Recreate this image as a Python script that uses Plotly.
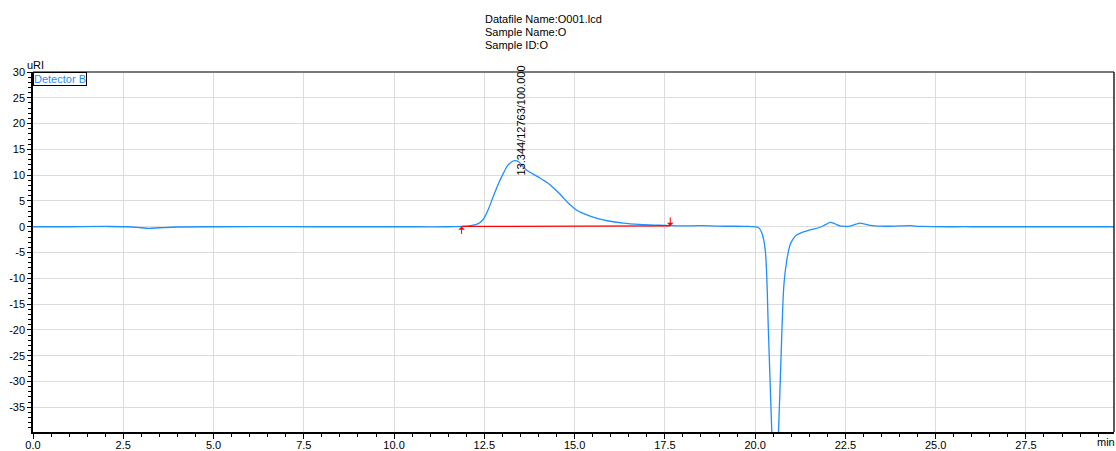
import plotly.graph_objects as go

# ---- data ----
time_min = [0.0, 1.0, 2.0, 2.6, 3.0, 3.2, 3.5, 4.0, 5.0, 8.0, 10.0, 11.5, 12.0, 12.3,
            12.47, 12.6, 12.75, 12.9, 13.03, 13.15, 13.3, 13.344, 13.45, 13.55, 13.67,
            13.85, 14.04, 14.2, 14.32, 14.45, 14.6, 14.7, 14.85, 14.97, 15.1, 15.3,
            15.43, 15.65, 15.9, 16.35, 16.8, 17.28, 17.7, 18.0, 18.5, 19.0, 19.8, 20.1,
            20.2, 20.28, 20.37, 20.46, 20.55, 20.65, 20.74, 20.8, 20.88, 20.97, 21.05,
            21.15, 21.3, 21.52, 21.8, 21.95, 22.08, 22.2, 22.35, 22.5, 22.63, 22.8, 22.9,
            23.05, 23.19, 23.5, 24.0, 24.3, 24.6, 26.0, 28.0, 30.0]
signal_uri = [0.0, 0.0, 0.05, 0.0, -0.2, -0.3, -0.2, -0.05, 0.0, 0.0, 0.0, 0.0, 0.1, 0.5,
              1.4, 3.2, 5.9, 8.5, 10.4, 11.9, 12.75, 12.8, 12.6, 11.8, 11.0,
              10.2, 9.45, 8.75, 8.15, 7.3, 6.3, 5.5, 4.4, 3.7, 3.05, 2.4,
              2.05, 1.55, 1.16, 0.7, 0.45, 0.3, 0.2, 0.15, 0.2, 0.1, 0.05, -0.2,
              -1.5, -4.5, -20.6, -39.4, -55.0, -39.4, -20.6, -11.0, -6.4, -3.5, -2.4,
              -1.6, -1.1, -0.6, -0.1, 0.4, 0.85, 0.6, 0.15, 0.05, 0.1, 0.5, 0.7,
              0.5, 0.25, 0.1, 0.15, 0.2, 0.05, 0.0, 0.0, 0.0]

baseline_t = [11.87, 17.65]
baseline_v = [0.05, 0.15]

peak_rt = 13.344
peak_label = "13.344/12763/100.000"

title_lines = ["Datafile Name:O001.lcd", "Sample Name:O", "Sample ID:O"]

x_ticks = [0.0, 2.5, 5.0, 7.5, 10.0, 12.5, 15.0, 17.5, 20.0, 22.5, 25.0, 27.5]
y_ticks = [30, 25, 20, 15, 10, 5, 0, -5, -10, -15, -20, -25, -30, -35]

FONT = "Liberation Sans, Arial, sans-serif"
BLUE = "#1e8fff"

L, R, T, B = 33, 2, 72, 19
W, H = 1116, 451
pw, ph = W - L - R, H - T - B


def px_to_paper(px, py):
    return (px - L) / pw, (H - B - py) / ph


fig = go.Figure()
fig.add_trace(go.Scatter(x=time_min, y=signal_uri, mode="lines",
                         line=dict(color=BLUE, width=1.3, shape="spline", smoothing=1.0),
                         showlegend=False, hoverinfo="skip"))
fig.add_trace(go.Scatter(x=baseline_t, y=baseline_v, mode="lines",
                         line=dict(color="#ff0000", width=1.3),
                         showlegend=False, hoverinfo="skip"))

# integration markers
fig.add_annotation(x=baseline_t[0], y=baseline_v[0], ax=0, ay=9, showarrow=True,
                   arrowhead=1, arrowsize=1.1, arrowwidth=1, arrowcolor="#ff0000", text="")
fig.add_annotation(x=baseline_t[1], y=baseline_v[1], ax=0, ay=-10, showarrow=True,
                   arrowhead=1, arrowsize=1.1, arrowwidth=1, arrowcolor="#ff0000", text="")

# peak label
fig.add_annotation(x=peak_rt, y=9.5, text=peak_label, textangle=-90, showarrow=False,
                   xanchor="center", yanchor="bottom", xshift=6,
                   font=dict(family=FONT, size=11, color="#000000"))

# header lines
for i, t in enumerate(title_lines):
    ax_, ay_ = px_to_paper(483, 19 + 13 * i)
    fig.add_annotation(x=ax_, y=ay_, xref="paper", yref="paper", text=t,
                       showarrow=False, xanchor="left", yanchor="middle",
                       font=dict(family=FONT, size=11, color="#000000"))

# unit labels
ux, uy = px_to_paper(35, 65)
fig.add_annotation(x=ux, y=uy, xref="paper", yref="paper", text="uRI", showarrow=False,
                   xanchor="center", yanchor="middle",
                   font=dict(family=FONT, size=11, color="#000000"))
mx, my = px_to_paper(1106, 442)
fig.add_annotation(x=mx, y=my, xref="paper", yref="paper", text="min", showarrow=False,
                   xanchor="center", yanchor="middle",
                   font=dict(family=FONT, size=11, color="#000000"))
# detector legend box
fig.add_annotation(x=0, y=1, xref="paper", yref="paper", text="Detector B",
                   showarrow=False, xanchor="left", yanchor="top",
                   bordercolor="#000000", borderwidth=1, borderpad=0, bgcolor="#ffffff",
                   font=dict(family=FONT, size=11, color=BLUE))

# frame: top gray, right black
fig.add_shape(type="line", xref="paper", yref="paper", x0=0, x1=1, y0=1, y1=1,
              line=dict(color="#7a7a7a", width=2))
fig.add_shape(type="line", xref="paper", yref="paper", x0=1, x1=1, y0=0, y1=1,
              line=dict(color="#222222", width=1.5))

fig.update_layout(
    width=W, height=H,
    margin=dict(l=L, r=R, t=T, b=B, autoexpand=False),
    paper_bgcolor="#ffffff", plot_bgcolor="#ffffff",
    font=dict(family=FONT, size=11, color="#000000"),
    showlegend=False,
    xaxis=dict(range=[0, 29.94], tickvals=x_ticks, ticktext=[f"{v:.1f}" for v in x_ticks],
               ticks="outside", ticklen=5, tickwidth=1, tickcolor="#000000",
               showline=True, linecolor="#000000", linewidth=1.5, automargin=False,
               ticklabelstandoff=-3,
               showgrid=True, gridcolor="#dcdcdc", gridwidth=1, zeroline=False,
               minor=dict(dtick=0.5, tick0=0, ticks="outside", ticklen=3, tickcolor="#000000", showgrid=False),
               tickfont=dict(size=11)),
    yaxis=dict(range=[-39.8, 30], tickvals=y_ticks, ticktext=[str(v) for v in y_ticks],
               ticks="outside", ticklen=4, tickwidth=1, tickcolor="#000000",
               showline=True, linecolor="#000000", linewidth=1.5, automargin=False,
               showgrid=True, gridcolor="#dcdcdc", gridwidth=1, zeroline=False,
               minor=dict(dtick=1, tick0=0, ticks="outside", ticklen=3, tickcolor="#000000", showgrid=False),
               tickfont=dict(size=11)),
)

fig.write_html("out.html", config={"displayModeBar": False},
               post_script="document.body.style.margin='0';document.body.style.overflow='hidden';")
